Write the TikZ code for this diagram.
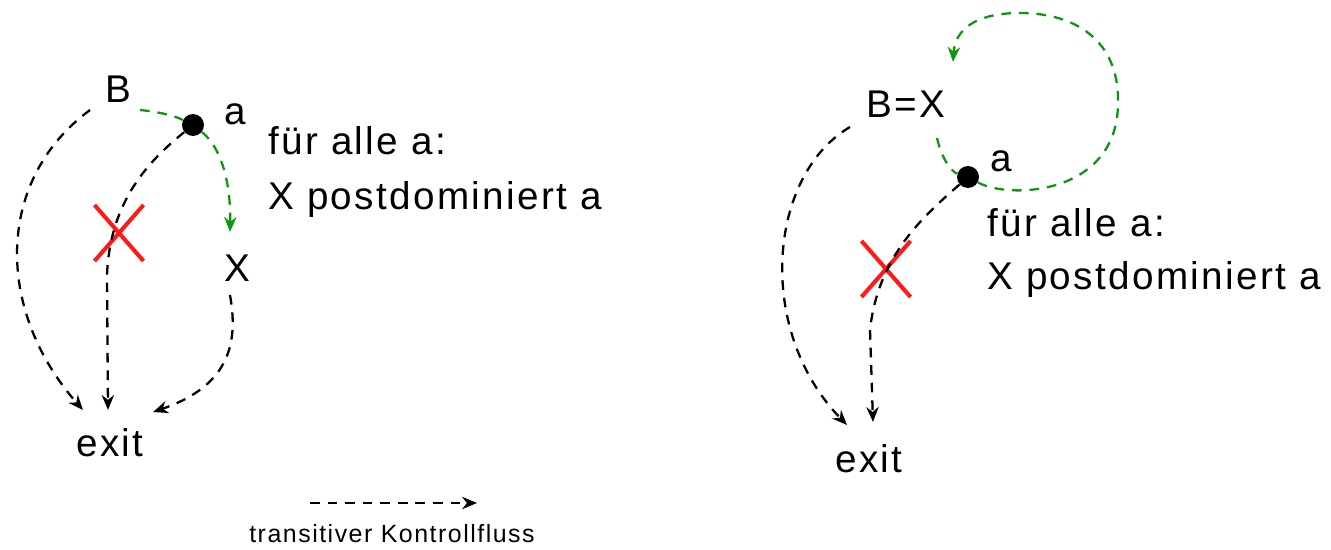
\documentclass[tikz,border=0pt]{standalone}
\usepackage{fontspec}
\setmainfont{Liberation Sans}[LetterSpace=6]
\usetikzlibrary{arrows.meta,shapes.misc,calc}
\definecolor{flowgreen}{RGB}{15,150,15}
\definecolor{crossred}{RGB}{255,25,25}
\pgfdeclarelayer{bg}
\pgfsetlayers{bg,main}
\begin{document}
\begin{tikzpicture}[x=0.02cm,y=-0.02cm,
  lbl/.style={font=\fontsize{22}{26}\selectfont, inner sep=0pt, anchor=base},
  txt/.style={font=\fontsize{22}{26}\selectfont, inner sep=0pt, anchor=base west},
  small/.style={font=\fontsize{14.2}{17}\selectfont, inner sep=0pt, anchor=base},
  dline/.style={draw=black, line width=1.3pt, dash pattern=on 5.5pt off 4.5pt},
  flow/.style={dline, -{Stealth[length=8.5pt,width=7pt]}},
  gline/.style={dline, draw=flowgreen},
  gflow/.style={flow, draw=flowgreen},
  dotnode/.style={circle, fill=black, minimum size=0.44cm, inner sep=0pt},
  xmark/.style={cross out, draw=crossred, line width=2.3pt, minimum width=0.9cm, minimum height=1.04cm, inner sep=0pt}]
\useasboundingbox (0,0) rectangle (1331,550);

% ---------- left diagram ----------
\node[lbl] (B) at (118,103) {B};
\node[dotnode] (a1) at (193,125) {};
\node[lbl] (a1l) at (235,125) {a};
\node[lbl] (X1) at (237,282) {X};
\node[lbl] (exit1) at (110,456) {exit};
\node[txt] (t1a) at (268,155) {für alle a:};
\node[txt] (t1b) at (268,210) {X postdominiert a};

% ---------- right diagram ----------
\node[lbl] (BX) at (906,118) {B=X};
\node[dotnode] (a2) at (968,177) {};
\node[lbl] (a2l) at (1001,172) {a};
\node[lbl] (exit2) at (869,472) {exit};
\node[txt] (t2a) at (987,237) {für alle a:};
\node[txt] (t2b) at (987,290) {X postdominiert a};

% ---------- legend ----------
\coordinate (lgs) at (310,503);
\coordinate (lge) at (477,503);
\node[small] (lgt) at (392,542) {transitiver Kontrollfluss};

\begin{pgfonlayer}{bg}
  \node[xmark] (cx1) at (119,233) {};
  \node[xmark] (cx2) at (886,269) {};

  % left connectors
  \draw[flow] ($(B.base)+(-28,7)$) .. controls (-5,180) and (-5,310) .. ($(exit1.base)+(-27,-46)$);
  \draw[gline] ($(B.base)+(22,7)$) .. controls (160,112) and (175,116) .. (a1);
  \draw[gflow] (a1) .. controls (222,148) and (231,185) .. ($(X1.base)+(-7,-50)$);
  \draw[flow] (a1) .. controls (150,160) and (110,200) .. (107,275) -- ($(exit1.base)+(-2,-46)$);
  \draw[flow] ($(X1.base)+(-7,13)$) .. controls (238,340) and (232,385) .. ($(exit1.base)+(43,-44)$);

  % right connectors
  \draw[flow] ($(BX.base)+(-56,9)$) .. controls (768,175) and (755,330) .. ($(exit2.base)+(-22,-47)$);
  \draw[gflow] ($(BX.base)+(31,20)$) .. controls (942,160) and (952,172) .. (a2)
     .. controls (1010,200) and (1120,195) .. (1118,100)
     .. controls (1118,40) and (1075,13) .. (1020,13)
     .. controls (975,13) and (955,30) .. ($(BX.base)+(47,-56)$);
  \draw[flow] (a2) .. controls (925,215) and (878,255) .. (870,330) -- ($(exit2.base)+(4,-50)$);

  % legend
  \draw[flow] (lgs) -- (lge);
\end{pgfonlayer}
\end{tikzpicture}
\end{document}
